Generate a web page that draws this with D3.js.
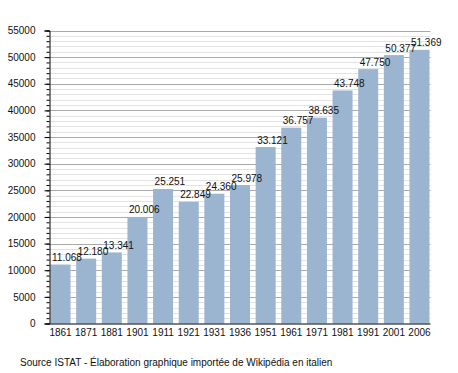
<!DOCTYPE html>
<html>
<head>
<meta charset="utf-8">
<script src="https://cdn.jsdelivr.net/npm/d3@7"></script>
<style>
  body { margin: 0; background: #fff; }
  svg { display: block; font-family: "Liberation Sans", Arial, sans-serif; }
</style>
</head>
<body>
<div id="chart"></div>
<script>
const years = ['1861', '1871', '1881', '1901', '1911', '1921', '1931', '1936',
  '1951', '1961', '1971', '1981', '1991', '2001', '2006'];
const population = [11068, 12180, 13341, 20006, 25251, 22849, 24360, 25978,
  33121, 36757, 38635, 43748, 47750, 50377, 51369];
const labels = ['11.068', '12.180', '13.341', '20.006', '25.251', '22.849', '24.360', '25.978',
  '33.121', '36.757', '38.635', '43.748', '47.750', '50.377', '51.369'];
const majorTicks = [0, 5000, 10000, 15000, 20000, 25000, 30000, 35000, 40000, 45000, 50000, 55000];
const sourceNote = 'Source ISTAT - Élaboration graphique importée de Wikipédia en italien';

const width = 458;
const height = 373;
const margin = { top: 30.5, right: 27.5, bottom: 49.5, left: 49.5 };

const svg = d3.select('#chart').append('svg')
  .attr('width', width)
  .attr('height', height);

const x = d3.scaleBand()
  .domain(years)
  .range([margin.left, width - margin.right])
  .paddingInner(0.22)
  .paddingOuter(0.04);

const y = d3.scaleLinear()
  .domain([0, 55000])
  .range([height - margin.bottom, margin.top]);

// grille fine (tous les 1000)
const minor = d3.range(1000, 55001, 1000).filter(v => v % 5000 !== 0);
svg.append('g')
  .selectAll('line')
  .data(minor)
  .join('line')
  .attr('x1', margin.left)
  .attr('x2', width - margin.right)
  .attr('y1', d => Math.round(y(d)) + 0.5)
  .attr('y2', d => Math.round(y(d)) + 0.5)
  .attr('stroke', '#e3e3e3');

// grille principale
svg.append('g')
  .selectAll('line')
  .data(majorTicks.filter(d => d > 0))
  .join('line')
  .attr('x1', margin.left)
  .attr('x2', width - margin.right)
  .attr('y1', d => Math.round(y(d)) + 0.5)
  .attr('y2', d => Math.round(y(d)) + 0.5)
  .attr('stroke', '#aaaaaa');

// barres
svg.append('g')
  .selectAll('rect')
  .data(population)
  .join('rect')
  .attr('x', (d, i) => x(years[i]))
  .attr('y', d => y(d))
  .attr('width', x.bandwidth())
  .attr('height', d => y(0) - y(d))
  .attr('fill', '#9bb4cf');

// valeurs
svg.append('g')
  .selectAll('text')
  .data(population)
  .join('text')
  .attr('x', (d, i) => x(years[i]) + 1.5)
  .attr('y', d => y(d) - 3.5)
  .attr('font-size', 10)
  .attr('fill', '#111')
  .text((d, i) => labels[i]);

// axe Y
const yMinor = d3.axisLeft(y)
  .tickValues(d3.range(0, 55001, 1000))
  .tickSize(3)
  .tickFormat('');
svg.append('g')
  .attr('transform', `translate(${margin.left},0)`)
  .call(yMinor)
  .call(g => g.select('.domain').remove())
  .call(g => g.selectAll('line').attr('stroke', '#000'));

const yAxis = d3.axisLeft(y)
  .tickValues(majorTicks)
  .tickSize(5)
  .tickPadding(9)
  .tickFormat(d3.format('d'));
svg.append('g')
  .attr('transform', `translate(${margin.left},0)`)
  .call(yAxis)
  .call(g => g.select('.domain').attr('stroke', '#000'))
  .call(g => g.selectAll('text')
    .attr('font-size', 10)
    .attr('font-family', '"Liberation Sans", Arial, sans-serif')
    .attr('fill', '#111'));

// axe X
const xAxis = d3.axisBottom(x)
  .tickSize(0)
  .tickPadding(5);
svg.append('g')
  .attr('transform', `translate(0,${height - margin.bottom})`)
  .call(xAxis)
  .call(g => g.select('.domain').attr('stroke', '#000').attr('d', `M${margin.left},0.5H${width - margin.right}`))
  .call(g => g.selectAll('text')
    .attr('font-size', 10)
    .attr('font-family', '"Liberation Sans", Arial, sans-serif')
    .attr('fill', '#111'));

// source
svg.append('text')
  .attr('x', 20)
  .attr('y', 366)
  .attr('font-size', 10)
  .attr('fill', '#111')
  .text(sourceNote);
</script>
</body>
</html>
